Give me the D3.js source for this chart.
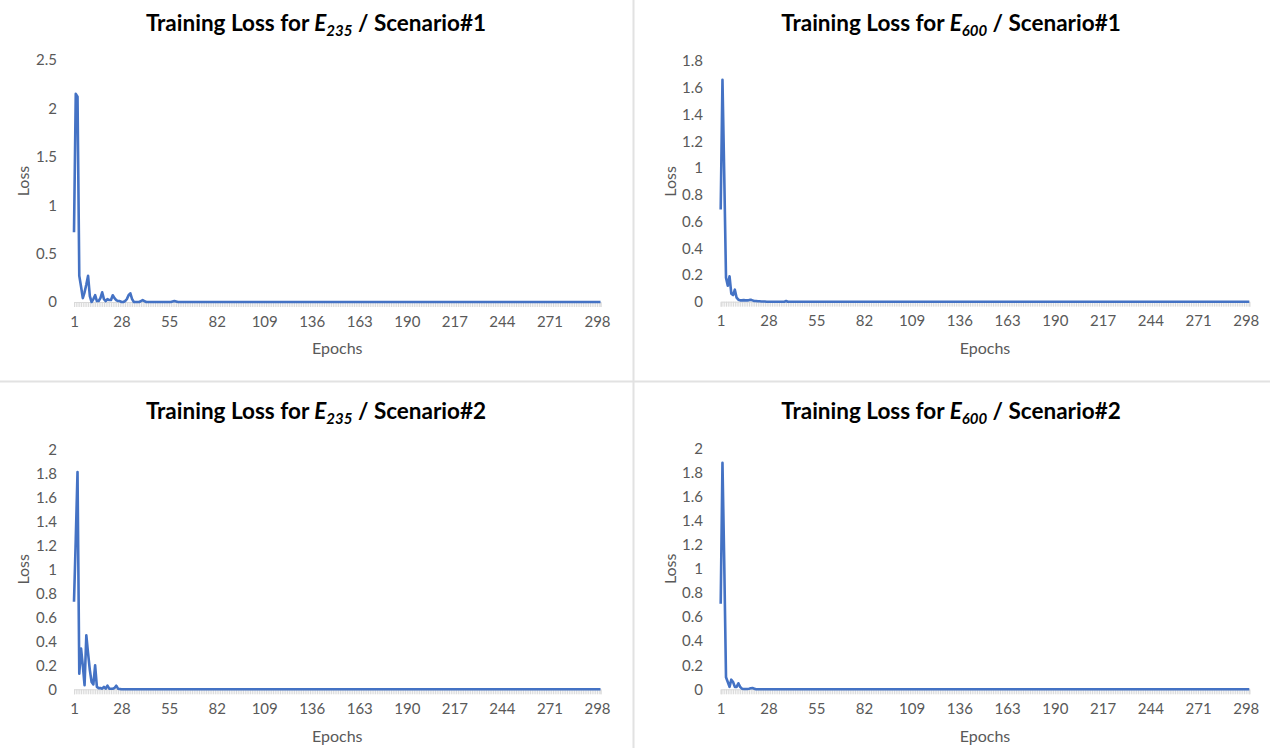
<!DOCTYPE html>
<html>
<head>
<meta charset="utf-8">
<script src="https://cdn.jsdelivr.net/npm/d3@7"></script>
<style>
  body { margin: 0; background: #fff; }
  text { font-family: Lato, "Open Sans", sans-serif; }
</style>
</head>
<body>
<div id="plot"></div>
<script>
// loss per epoch (300 epochs)
const loss235s1 = [
  0.72, 2.15, 2.12, 0.27, 0.16, 0.04, 0.10, 0.18, 0.27, 0.06, 0.00, 0.03, 0.07, 0.01, 0.01, 0.04, 0.10, 0.03, 0.01, 0.03,
  0.02, 0.02, 0.07, 0.04, 0.02, 0.01, 0.01, 0, 0, 0.01, 0.03, 0.07, 0.09, 0.03, 0, 0, 0, 0, 0.01, 0.02,
  0.01, 0, 0, 0, 0, 0, 0, 0, 0, 0, 0, 0, 0, 0, 0, 0, 0.005, 0.01, 0.005, 0,
  0,0,0,0,0, 0,0,0,0,0, 0,0,0,0,0, 0,0,0,0,0,
  0,0,0,0,0, 0,0,0,0,0, 0,0,0,0,0, 0,0,0,0,0,
  0,0,0,0,0, 0,0,0,0,0, 0,0,0,0,0, 0,0,0,0,0,
  0,0,0,0,0, 0,0,0,0,0, 0,0,0,0,0, 0,0,0,0,0,
  0,0,0,0,0, 0,0,0,0,0, 0,0,0,0,0, 0,0,0,0,0,
  0,0,0,0,0, 0,0,0,0,0, 0,0,0,0,0, 0,0,0,0,0,
  0,0,0,0,0, 0,0,0,0,0, 0,0,0,0,0, 0,0,0,0,0,
  0,0,0,0,0, 0,0,0,0,0, 0,0,0,0,0, 0,0,0,0,0,
  0,0,0,0,0, 0,0,0,0,0, 0,0,0,0,0, 0,0,0,0,0,
  0,0,0,0,0, 0,0,0,0,0, 0,0,0,0,0, 0,0,0,0,0,
  0,0,0,0,0, 0,0,0,0,0, 0,0,0,0,0, 0,0,0,0,0,
  0,0,0,0,0, 0,0,0,0,0, 0,0,0,0,0, 0,0,0,0,0
];

const loss600s1 = [
  0.69, 1.66, 0.95, 0.18, 0.12, 0.19, 0.06, 0.05, 0.09, 0.03, 0.015, 0.01, 0.01, 0.012, 0.01, 0.01, 0.012, 0.015, 0.01, 0.005,
  0.005, 0.003, 0.003, 0.002, 0.002, 0.002, 0, 0, 0, 0, 0, 0, 0, 0, 0, 0, 0, 0.005, 0, 0,
  0,0,0,0,0, 0,0,0,0,0, 0,0,0,0,0, 0,0,0,0,0,
  0,0,0,0,0, 0,0,0,0,0, 0,0,0,0,0, 0,0,0,0,0,
  0,0,0,0,0, 0,0,0,0,0, 0,0,0,0,0, 0,0,0,0,0,
  0,0,0,0,0, 0,0,0,0,0, 0,0,0,0,0, 0,0,0,0,0,
  0,0,0,0,0, 0,0,0,0,0, 0,0,0,0,0, 0,0,0,0,0,
  0,0,0,0,0, 0,0,0,0,0, 0,0,0,0,0, 0,0,0,0,0,
  0,0,0,0,0, 0,0,0,0,0, 0,0,0,0,0, 0,0,0,0,0,
  0,0,0,0,0, 0,0,0,0,0, 0,0,0,0,0, 0,0,0,0,0,
  0,0,0,0,0, 0,0,0,0,0, 0,0,0,0,0, 0,0,0,0,0,
  0,0,0,0,0, 0,0,0,0,0, 0,0,0,0,0, 0,0,0,0,0,
  0,0,0,0,0, 0,0,0,0,0, 0,0,0,0,0, 0,0,0,0,0,
  0,0,0,0,0, 0,0,0,0,0, 0,0,0,0,0, 0,0,0,0,0,
  0,0,0,0,0, 0,0,0,0,0, 0,0,0,0,0, 0,0,0,0,0
];

const loss235s2 = [
  0.73, 1.25, 1.81, 0.13, 0.34, 0.20, 0.035, 0.45, 0.30, 0.16, 0.06, 0.04, 0.20, 0.02, 0.01, 0.01, 0.005, 0.02, 0.005, 0.03,
  0.005, 0.005, 0.005, 0.01, 0.03, 0.005, 0.003, 0, 0, 0, 0, 0, 0, 0, 0, 0, 0, 0, 0, 0,
  0,0,0,0,0, 0,0,0,0,0, 0,0,0,0,0, 0,0,0,0,0,
  0,0,0,0,0, 0,0,0,0,0, 0,0,0,0,0, 0,0,0,0,0,
  0,0,0,0,0, 0,0,0,0,0, 0,0,0,0,0, 0,0,0,0,0,
  0,0,0,0,0, 0,0,0,0,0, 0,0,0,0,0, 0,0,0,0,0,
  0,0,0,0,0, 0,0,0,0,0, 0,0,0,0,0, 0,0,0,0,0,
  0,0,0,0,0, 0,0,0,0,0, 0,0,0,0,0, 0,0,0,0,0,
  0,0,0,0,0, 0,0,0,0,0, 0,0,0,0,0, 0,0,0,0,0,
  0,0,0,0,0, 0,0,0,0,0, 0,0,0,0,0, 0,0,0,0,0,
  0,0,0,0,0, 0,0,0,0,0, 0,0,0,0,0, 0,0,0,0,0,
  0,0,0,0,0, 0,0,0,0,0, 0,0,0,0,0, 0,0,0,0,0,
  0,0,0,0,0, 0,0,0,0,0, 0,0,0,0,0, 0,0,0,0,0,
  0,0,0,0,0, 0,0,0,0,0, 0,0,0,0,0, 0,0,0,0,0,
  0,0,0,0,0, 0,0,0,0,0, 0,0,0,0,0, 0,0,0,0,0
];

const loss600s2 = [
  0.71, 1.88, 1.05, 0.10, 0.06, 0.02, 0.08, 0.06, 0.02, 0.02, 0.05, 0.02, 0.005, 0.003, 0.003, 0.003, 0.005, 0.008, 0.01, 0.005,
  0,0,0,0,0, 0,0,0,0,0, 0,0,0,0,0, 0,0,0,0,0,
  0,0,0,0,0, 0,0,0,0,0, 0,0,0,0,0, 0,0,0,0,0,
  0,0,0,0,0, 0,0,0,0,0, 0,0,0,0,0, 0,0,0,0,0,
  0,0,0,0,0, 0,0,0,0,0, 0,0,0,0,0, 0,0,0,0,0,
  0,0,0,0,0, 0,0,0,0,0, 0,0,0,0,0, 0,0,0,0,0,
  0,0,0,0,0, 0,0,0,0,0, 0,0,0,0,0, 0,0,0,0,0,
  0,0,0,0,0, 0,0,0,0,0, 0,0,0,0,0, 0,0,0,0,0,
  0,0,0,0,0, 0,0,0,0,0, 0,0,0,0,0, 0,0,0,0,0,
  0,0,0,0,0, 0,0,0,0,0, 0,0,0,0,0, 0,0,0,0,0,
  0,0,0,0,0, 0,0,0,0,0, 0,0,0,0,0, 0,0,0,0,0,
  0,0,0,0,0, 0,0,0,0,0, 0,0,0,0,0, 0,0,0,0,0,
  0,0,0,0,0, 0,0,0,0,0, 0,0,0,0,0, 0,0,0,0,0,
  0,0,0,0,0, 0,0,0,0,0, 0,0,0,0,0, 0,0,0,0,0,
  0,0,0,0,0, 0,0,0,0,0, 0,0,0,0,0, 0,0,0,0,0
];

const xTickLabels = [1, 28, 55, 82, 109, 136, 163, 190, 217, 244, 271, 298];
const yTicksA = [0, 0.5, 1, 1.5, 2, 2.5];
const yTicksB = [0, 0.2, 0.4, 0.6, 0.8, 1, 1.2, 1.4, 1.6, 1.8];
const yTicksC = [0, 0.2, 0.4, 0.6, 0.8, 1, 1.2, 1.4, 1.6, 1.8, 2];

const W = 1270, H = 748;
const lineColor = "#4472C4", labelColor = "#595959";

const svg = d3.select("#plot")
    .append("svg")
    .attr("width", W)
    .attr("height", H);

// panel separators
svg.append("line")
    .attr("x1", 633.5).attr("x2", 633.5).attr("y1", 0).attr("y2", H)
    .attr("stroke", "#e2e2e2").attr("stroke-width", 2);
svg.append("line")
    .attr("x1", 0).attr("x2", W).attr("y1", 381.5).attr("y2", 381.5)
    .attr("stroke", "#e2e2e2").attr("stroke-width", 2);

const panels = [
    {data: loss235s1, sub: "235", scen: "1", yTicks: yTicksA, yMax: 2.5,
     x0: 74, x1: 600.5, yTop: 60, yBot: 302, labelRight: 57, lossX: 23, titleX: 316, titleY: 31, epochsY: 354},
    {data: loss600s1, sub: "600", scen: "1", yTicks: yTicksB, yMax: 1.8,
     x0: 720.7, x1: 1249.3, yTop: 61, yBot: 301.7, labelRight: 703, lossX: 670, titleX: 951, titleY: 31, epochsY: 354},
    {data: loss235s2, sub: "235", scen: "2", yTicks: yTicksC, yMax: 2,
     x0: 74, x1: 600.5, yTop: 449.3, yBot: 689.3, labelRight: 57, lossX: 23, titleX: 316, titleY: 419, epochsY: 742},
    {data: loss600s2, sub: "600", scen: "2", yTicks: yTicksC, yMax: 2,
     x0: 720.7, x1: 1249.3, yTop: 448.3, yBot: 689.3, labelRight: 703, lossX: 670, titleX: 951, titleY: 419, epochsY: 742}
];

panels.forEach(p => {
    const g = svg.append("g");

    const x = d3.scaleLinear()
        .domain([1, p.data.length])
        .range([p.x0, p.x1]);

    const y = d3.scaleLinear()
        .domain([0, p.yMax])
        .range([p.yBot, p.yTop]);

    // light grey category axis with a tick per epoch
    const band = g.append("g")
        .attr("transform", `translate(0,${p.yBot})`)
        .call(d3.axisBottom(x)
            .tickValues(p.data.map((d, i) => i + 1))
            .tickSize(5)
            .tickFormat(""));
    band.selectAll("line, path").attr("stroke", "#d9d9d9");

    // epoch labels
    const xAxis = g.append("g")
        .attr("transform", `translate(0,${p.yBot})`)
        .call(d3.axisBottom(x)
            .tickValues(xTickLabels)
            .tickFormat(d => d)
            .tickSize(0)
            .tickPadding(14));
    xAxis.select(".domain").remove();
    xAxis.selectAll("text")
        .attr("fill", labelColor)
        .style("font-size", "15px");

    // loss labels
    const yAxis = g.append("g")
        .attr("transform", `translate(${p.x0},0)`)
        .call(d3.axisLeft(y)
            .tickValues(p.yTicks)
            .tickFormat(d => d)
            .tickSize(0)
            .tickPadding(p.x0 - p.labelRight));
    yAxis.select(".domain").remove();
    yAxis.selectAll("text")
        .attr("fill", labelColor)
        .style("font-size", "15px");

    g.append("path")
        .datum(p.data)
        .attr("fill", "none")
        .attr("stroke", lineColor)
        .attr("stroke-width", 2.6)
        .attr("stroke-linejoin", "round")
        .attr("d", d3.line()
            .x((d, i) => x(i + 1))
            .y(d => y(d)));

    g.append("text")
        .attr("text-anchor", "middle")
        .attr("transform", `translate(${p.lossX},${(p.yTop + p.yBot) / 2}) rotate(-90)`)
        .attr("dy", "0.35em")
        .attr("fill", labelColor)
        .style("font-size", "16px")
        .text("Loss");

    g.append("text")
        .attr("text-anchor", "middle")
        .attr("x", (p.x0 + p.x1) / 2)
        .attr("y", p.epochsY)
        .attr("fill", labelColor)
        .style("font-size", "16px")
        .text("Epochs");

    const title = g.append("text")
        .attr("text-anchor", "middle")
        .attr("x", p.titleX)
        .attr("y", p.titleY)
        .attr("fill", "#000")
        .style("font-size", "22.5px")
        .style("font-weight", "bold");
    title.append("tspan").text("Training Loss for ");
    title.append("tspan").style("font-style", "italic").text("E");
    title.append("tspan").style("font-style", "italic").style("font-size", "15px")
        .attr("dy", 5).text(p.sub);
    title.append("tspan").attr("dy", -5).text(" / Scenario#" + p.scen);
});
</script>
</body>
</html>
